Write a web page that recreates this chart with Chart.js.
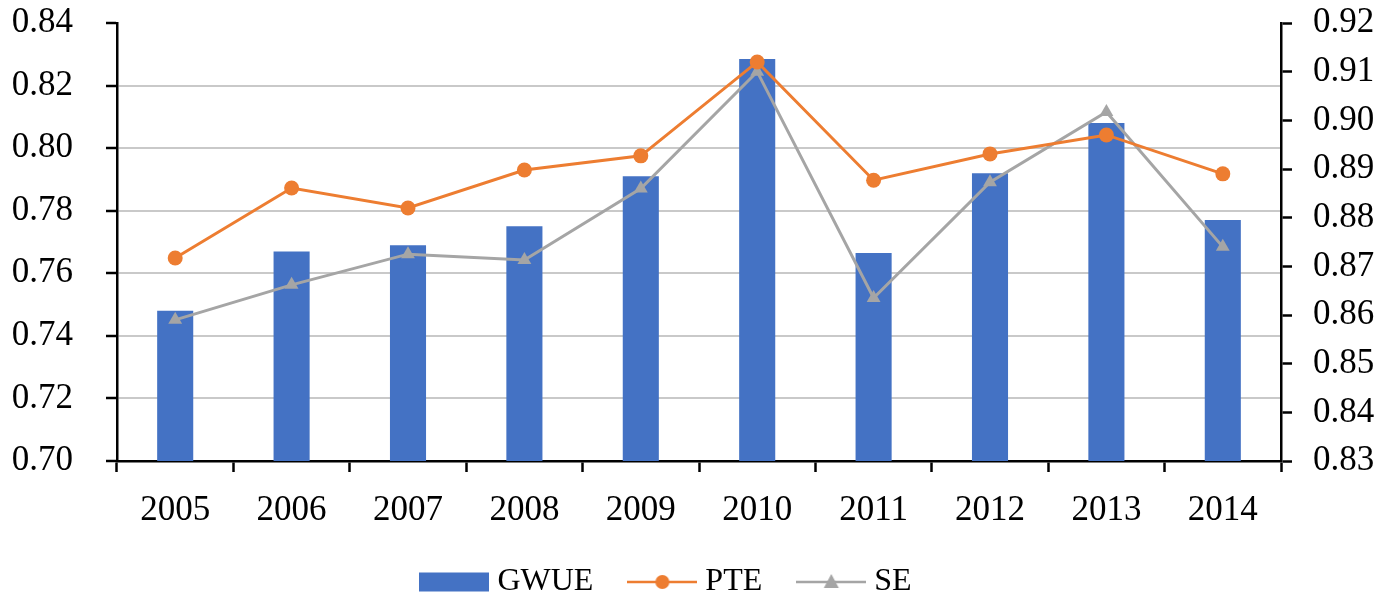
<!DOCTYPE html>
<html>
<head>
<meta charset="utf-8">
<script src="https://cdn.jsdelivr.net/npm/chart.js@4"></script>
<style>
html,body{margin:0;padding:0;background:#fff;}
#wrap{width:1393px;height:604px;position:relative;}
</style>
</head>
<body>
<div id="wrap"><canvas id="c" width="1393" height="604"></canvas></div>
<script>
const years = ['2005','2006','2007','2008','2009','2010','2011','2012','2013','2014'];
const gwue = [0.748,0.767,0.769,0.775,0.791,0.8285,0.7665,0.792,0.808,0.777];
const pte  = [0.8717,0.8861,0.882,0.8898,0.8927,0.912,0.8877,0.8931,0.897,0.889];
const se   = [0.859,0.8662,0.8725,0.8713,0.886,0.910,0.8635,0.8873,0.9017,0.874];
const leftTicks = [0.70,0.72,0.74,0.76,0.78,0.80,0.82,0.84];
const rightTicks = [0.83,0.84,0.85,0.86,0.87,0.88,0.89,0.90,0.91,0.92];

const BLUE='#4472c4', ORANGE='#ed7d31', GRAY='#a5a5a5';
const FONT='"Liberation Serif","Times New Roman",serif';

function mkIcon(kind){
  const w=70,h=22,cv=document.createElement('canvas');cv.width=w;cv.height=h;
  const g=cv.getContext('2d');
  if(kind==='bar'){g.fillStyle=BLUE;g.fillRect(0,1.5,w,19);}
  else{
    const col=kind==='circle'?ORANGE:GRAY;
    g.strokeStyle=col;g.lineWidth=2.5;g.beginPath();g.moveTo(0,h/2);g.lineTo(w,h/2);g.stroke();
    g.fillStyle=col;g.beginPath();
    if(kind==='circle'){g.arc(w/2,h/2,7,0,Math.PI*2);}
    else{g.moveTo(w/2,h/2-8);g.lineTo(w/2+7.5,h/2+6);g.lineTo(w/2-7.5,h/2+6);g.closePath();}
    g.fill();
  }
  return cv;
}
const icons={bar:mkIcon('bar'),circle:mkIcon('circle'),tri:mkIcon('tri')};

const legendShift={
  id:'legendShift',
  afterLayout(chart){ if(chart.legend){ chart.legend.right -= 54; } }
};

new Chart(document.getElementById('c'),{
  data:{
    labels:years,
    datasets:[
      {type:'line',label:'PTE',data:pte,yAxisID:'y1',borderColor:ORANGE,backgroundColor:ORANGE,borderWidth:3,pointStyle:'circle',pointRadius:7.5,pointBackgroundColor:ORANGE,pointBorderWidth:0,tension:0,order:1},
      {type:'line',label:'SE',data:se,yAxisID:'y1',borderColor:GRAY,backgroundColor:GRAY,borderWidth:3,pointStyle:'triangle',pointRadius:8,pointBackgroundColor:GRAY,pointBorderWidth:0,tension:0,order:2},
      {type:'bar',label:'GWUE',data:gwue,yAxisID:'y',backgroundColor:BLUE,borderWidth:0,categoryPercentage:1,barPercentage:0.31,order:3}
    ]
  },
  plugins:[legendShift],
  options:{
    responsive:false,animation:false,
    layout:{padding:{top:23,left:0,right:0,bottom:0}},
    plugins:{
      tooltip:{enabled:false},
      legend:{
        position:'bottom',
        maxHeight:80,
        labels:{
          usePointStyle:true,pointStyleWidth:54,boxHeight:22,
          font:{family:FONT,size:32},color:'#000',padding:42,
          generateLabels:()=>[
            {text:'GWUE',pointStyle:icons.bar,fillStyle:BLUE,strokeStyle:BLUE,lineWidth:0,hidden:false,datasetIndex:2,fontColor:'#000'},
            {text:'PTE',pointStyle:icons.circle,fillStyle:ORANGE,strokeStyle:ORANGE,lineWidth:0,hidden:false,datasetIndex:0,fontColor:'#000'},
            {text:'SE',pointStyle:icons.tri,fillStyle:GRAY,strokeStyle:GRAY,lineWidth:0,hidden:false,datasetIndex:1,fontColor:'#000'}
          ]
        }
      }
    },
    scales:{
      x:{
        offset:true,
        afterFit:(ax)=>{ax.height=63;},
        grid:{offset:true,drawOnChartArea:false,drawTicks:true,tickLength:11,tickColor:'#000',tickWidth:2.5},
        border:{color:'#000',width:2.5},
        ticks:{font:{family:FONT,size:35},color:'#000',padding:18,maxRotation:0}
      },
      y:{
        position:'left',min:0.70,max:0.84,
        afterFit:(ax)=>{ax.width=117;ax.paddingTop=0;ax.paddingBottom=0;},
        afterBuildTicks:(ax)=>{ax.ticks=leftTicks.map(v=>({value:v}));},
        grid:{color:(c)=>(c.tick && (c.tick.value>=0.839 || c.tick.value<=0.701))?'rgba(0,0,0,0)':'#c9c9c9',lineWidth:2,drawTicks:true,tickLength:11,tickColor:'#000',tickWidth:2.5},
        border:{color:'#000',width:2.5},
        ticks:{font:{family:FONT,size:35},color:'#000',padding:33,callback:(v)=>Number(v).toFixed(2)}
      },
      y1:{
        position:'right',min:0.83,max:0.92,
        afterFit:(ax)=>{ax.width=112;ax.paddingTop=0;ax.paddingBottom=0;},
        afterBuildTicks:(ax)=>{ax.ticks=rightTicks.map(v=>({value:v}));},
        grid:{drawOnChartArea:false,drawTicks:true,tickLength:11,tickColor:'#000',tickWidth:2.5},
        border:{color:'#000',width:2.5},
        ticks:{font:{family:FONT,size:35},color:'#000',padding:21,callback:(v)=>Number(v).toFixed(2)}
      }
    }
  }
});
</script>
</body>
</html>
